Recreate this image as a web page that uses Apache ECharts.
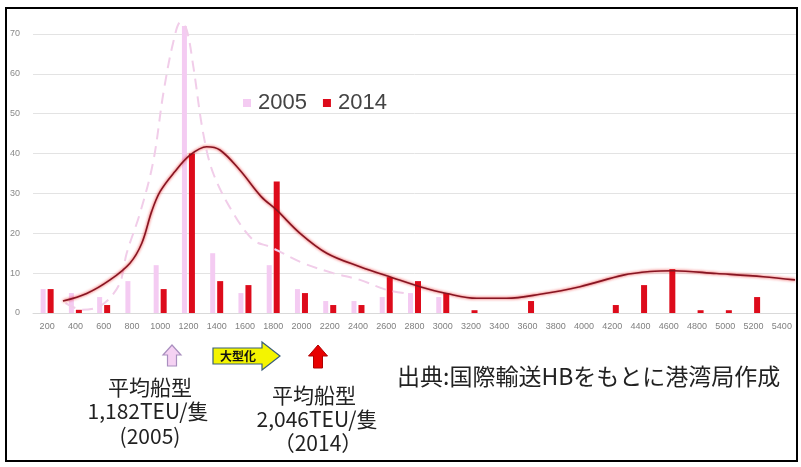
<!DOCTYPE html>
<html>
<head>
<meta charset="utf-8">
<script src="https://cdn.jsdelivr.net/npm/echarts@6/dist/echarts.min.js"></script>
<style>
  html, body { margin: 0; padding: 0; background: #fff; }
  #chart { width: 801px; height: 467px; }
</style>
</head>
<body>
<div id="chart"></div>
<script>
// Ship size classes (TEU) on the horizontal axis
const categories = ['200','400','600','800','1000','1200','1400','1600','1800','2000',
  '2200','2400','2600','2800','3000','3200','3400','3600','3800','4000',
  '4200','4400','4600','4800','5000','5200','5400'];

// Number of vessels per size class
const ships2005 = [6, 5, 4, 8, 12, 72, 15, 5, 12, 6,
  3, 3, 4, 5, 4, 0, 0, 0, 0, 0,
  0, 0, 0, 0, 0, 0, 0];
const ships2014 = [6, 0.8, 2, 0, 6, 40, 8, 7, 33, 5,
  2, 2, 9, 8, 5, 0.7, 0, 3, 0, 0,
  2, 7, 11, 0.7, 0.7, 4, 0];

// Smoothed distribution curves: [TEU, vessels]
const curve2005 = [[330,2.5],[450,0.8],[560,1.5],[650,4],[720,8],[763,15],[857,25],[951,38],
  [1022,55],[1093,68],[1145,73],[1188,71],[1234,62],[1305,45],[1376,35],[1518,25],
  [1659,18.3],[1777,16.6],[2013,12.5],[2225,10],[2414,8.3],[2603,5.8],[2745,4.9]];
const curve2014 = [[312,3.0],[480,4.9],[645,8.3],[786,12.5],[870,17.5],[940,25.5],[1000,30.5],
  [1100,35.3],[1211,39.6],[1329,41.7],[1423,40.9],[1565,35.8],[1715,29.2],[1825,25.8],
  [1990,20],[2179,15],[2414,11.6],[2648,8.8],[2839,6.6],[3028,4.9],[3240,3.7],
  [3452,3.7],[3688,4.7],[3971,6.6],[4278,9.5],[4466,10.4],[4631,10.6],[4938,9.9],
  [5268,9.1],[5493,8.3]];

const jp = '"Noto Sans CJK JP", "Noto Sans", sans-serif';

const chart = echarts.init(document.getElementById('chart'), null, { renderer: 'canvas' });

function blockArrowUp(cx, top, bottom, headW, bodyW, headH) {
  return [[cx, top], [cx + headW / 2, top + headH], [cx + bodyW / 2, top + headH],
    [cx + bodyW / 2, bottom], [cx - bodyW / 2, bottom], [cx - bodyW / 2, top + headH],
    [cx - headW / 2, top + headH]];
}

function caption(x, y, text) {
  return { type: 'text', style: { x: x, y: y, text: text, fontSize: 21, fontFamily: jp, fill: '#222', align: 'center', verticalAlign: 'middle' } };
}

chart.setOption({
  animation: false,
  backgroundColor: '#fff',
  grid: { left: 33, right: 5, top: 34, bottom: 154, containLabel: false },
  legend: {
    data: ['2005', '2014'],
    left: 238, top: 87,
    icon: 'rect', itemWidth: 8, itemHeight: 8, itemGap: 16,
    textStyle: { fontSize: 22, color: '#444', fontFamily: '"Liberation Sans", Arial, sans-serif', padding: [0, 0, 0, 2] }
  },
  xAxis: [{
    type: 'category',
    data: categories,
    boundaryGap: true,
    axisLine: { lineStyle: { color: '#d9d9d9' } },
    axisTick: { show: false },
    axisLabel: { interval: 0, fontSize: 9, color: '#808080', margin: 9, fontFamily: '"Liberation Sans", Arial, sans-serif' }
  }, {
    type: 'value', min: 100, max: 5500, show: false
  }],
  yAxis: {
    type: 'value', min: 0, max: 70, interval: 10,
    axisLine: { show: false }, axisTick: { show: false },
    axisLabel: { fontSize: 9, color: '#8a8a8a', margin: 13, fontFamily: '"Liberation Sans", Arial, sans-serif' },
    splitLine: { lineStyle: { color: '#e3e3e3', width: 1 } }
  },
  series: [{
    name: '2005', type: 'bar', data: ships2005, clip: false,
    barWidth: 5, barGap: '40%',
    itemStyle: { color: '#f4cbf2' }
  }, {
    name: '2014', type: 'bar', data: ships2014, clip: false,
    barWidth: 6, barGap: '40%',
    itemStyle: { color: '#dd0b1b' }
  }, {
    name: 'curve2005', type: 'line', xAxisIndex: 1, data: curve2005, clip: false,
    smooth: 0.35, symbol: 'none', z: 3,
    lineStyle: { color: '#f1cde9', width: 2, type: [11, 7] }
  }, {
    name: 'curve2014', type: 'line', xAxisIndex: 1, data: curve2014, clip: false,
    smooth: 0.35, symbol: 'none', z: 4,
    lineStyle: { color: '#861522', width: 1.6, shadowColor: 'rgba(235,0,0,0.85)', shadowBlur: 3 }
  }],
  graphic: [
    // frame
    { type: 'rect', shape: { x: 6, y: 8, width: 791, height: 453 }, style: { fill: 'none', stroke: '#000', lineWidth: 2 }, z: 100 },
    // 2005 average marker
    { type: 'polygon', shape: { points: blockArrowUp(172, 345, 366, 18, 9, 10) },
      style: { fill: '#f5d2f3', stroke: '#a98fbf', lineWidth: 1.2 } },
    // growth arrow
    { type: 'polygon', shape: { points: [[213,348],[262,348],[262,342],[280,356],[262,370],[262,364],[213,364]] },
      style: { fill: '#f4f400', stroke: '#3b5f7a', lineWidth: 1.2 } },
    { type: 'text', style: { x: 238, y: 356, text: '大型化', fontSize: 12, fontWeight: 'bold', fontFamily: jp, fill: '#111', align: 'center', verticalAlign: 'middle' } },
    // 2014 average marker
    { type: 'polygon', shape: { points: blockArrowUp(318, 345, 368, 19, 9, 11) },
      style: { fill: '#e80000', stroke: '#b00000', lineWidth: 1 } },
    // captions
    caption(150, 387, '平均船型'),
    caption(148, 411, '1,182TEU/隻'),
    caption(150, 436, '(2005)'),
    caption(314, 395, '平均船型'),
    caption(317, 419, '2,046TEU/隻'),
    caption(318, 443, '（2014）'),
    { type: 'text', style: { x: 397, y: 376, text: '出典:国際輸送HBをもとに港湾局作成', fontSize: 23, fontFamily: jp, fill: '#222', align: 'left', verticalAlign: 'middle' } }
  ]
});
</script>
</body>
</html>
